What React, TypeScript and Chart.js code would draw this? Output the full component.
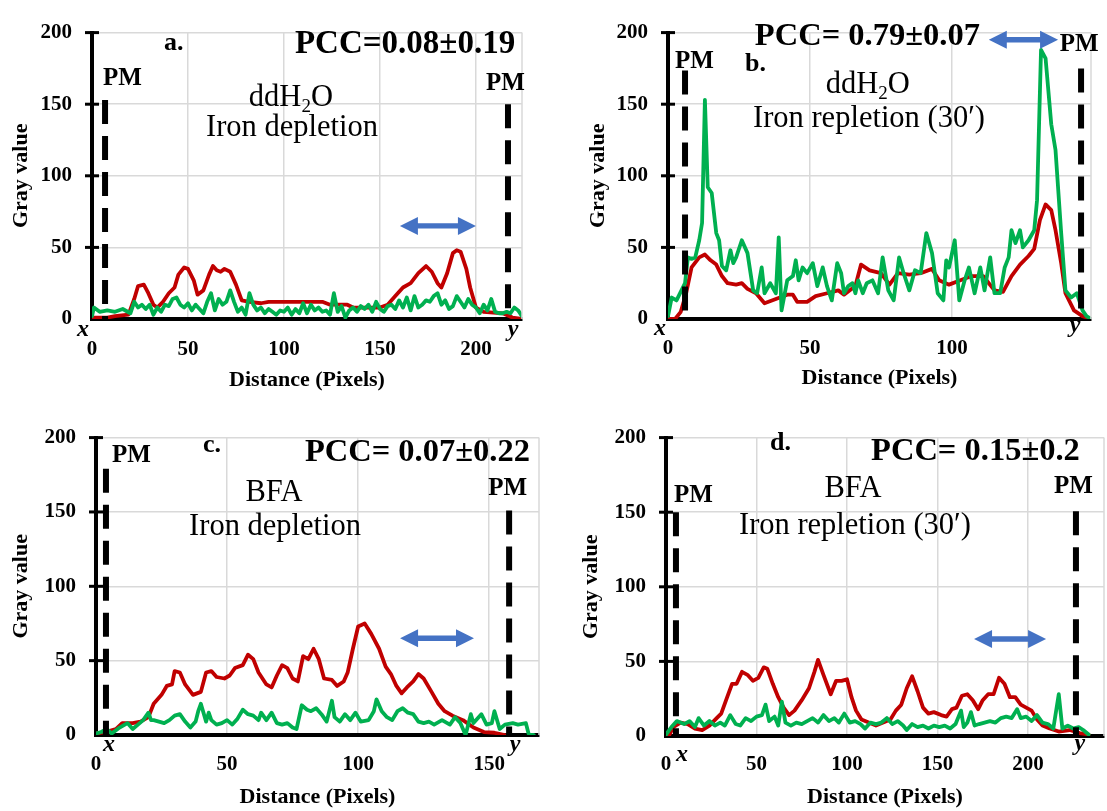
import React, { useEffect, useRef } from 'react';
import { Chart, registerables } from 'chart.js';
Chart.register(...registerables);

const FONT = '"Liberation Serif", "Times New Roman", serif';
Chart.defaults.font.family = FONT;

// ---------- data: [distance, gray value] ----------
const aRed = [[0,1],[8,1],[12,2],[19,3],[22,14],[24,23],[27,24],[29,19],[32,10],[34,8],[37,12],[40,18],[43,22],[45,31],[48,36],[50,35],[53,27],[55,17],[58,20],[61,31],[63,37],[65,34],[67,33],[69,35],[72,33],[75,24],[78,13],[82,12],[88,11],[92,12],[110,12],[120,12],[124,10],[133,10],[136,8],[150,8],[154,10],[158,16],[162,22],[166,25],[170,32],[174,37],[177,33],[180,25],[182,22],[185,32],[188,46],[190,48],[192,47],[195,35],[197,22],[200,8],[204,5],[214,4],[219,1],[224,0]];
const aGreen = [[0,2],[1,8],[4,5],[8,6],[12,5],[16,7],[20,4],[22,12],[24,8],[26,10],[28,7],[30,10],[32,3],[34,8],[36,5],[38,10],[40,9],[42,14],[44,15],[46,10],[48,8],[50,11],[52,6],[54,10],[56,7],[58,4],[60,12],[62,18],[64,6],[66,14],[68,10],[70,12],[72,20],[74,12],[76,5],[78,8],[80,3],[82,18],[84,10],[86,6],[88,8],[90,4],[92,7],[94,5],[96,3],[98,6],[100,5],[102,8],[104,3],[106,7],[108,4],[110,11],[112,4],[114,10],[116,6],[118,8],[120,5],[122,6],[124,3],[126,18],[128,5],[130,9],[132,1],[134,6],[136,8],[138,5],[140,9],[142,7],[144,10],[146,5],[148,12],[150,7],[152,5],[154,9],[156,10],[158,7],[160,13],[162,8],[164,15],[166,6],[168,16],[170,8],[172,10],[174,13],[176,12],[178,16],[180,18],[182,10],[184,13],[186,7],[188,9],[190,16],[192,12],[194,8],[196,14],[198,10],[200,8],[202,4],[204,10],[206,6],[208,14],[210,5],[212,4],[214,4],[216,5],[218,4],[220,8],[222,6],[224,2]];

const bRed = [[0,0],[2.5,0],[4.5,5],[6.4,18],[8.3,36],[11,43],[13,45],[15,41],[17,38],[19,30],[21,25],[24,24],[26,25],[28,21],[31,18],[34,11],[38,14],[42,17],[44,17],[45.5,12],[49,12],[52,16],[56,18],[60,20],[62,17],[66,23],[68,38],[71,34],[75,32],[78,24],[81,32],[85,31],[89,32],[93,35],[95.5,27],[99,24],[103,27],[107,30],[111,30],[115,20],[118,19],[121,30],[124,38],[127,44],[129,49],[131,69],[133,80],[135,76],[136.5,62],[138.5,39],[140,18],[143,6],[146,2],[149,0]];
const bGreen = [[0,2],[1.3,15],[3,13],[6,25],[7,43],[8.3,42],[9.6,43],[11,55],[12,67],[13,153],[14,92],[15.4,88],[17,60],[18,55],[19,37],[20.5,34],[22,48],[23,39],[24,43],[26,55],[28,46],[30,20],[31.4,18],[33,36],[34,18],[36,25],[38,18],[39,57],[40,6],[42,27],[44,30],[45,41],[46,27],[47.4,36],[49,32],[51,39],[52.6,23],[54.5,36],[56,23],[57.7,13],[59.6,39],[61,32],[62,18],[63.5,23],[65,25],[66,18],[67,27],[68.6,18],[70,25],[72,27],[74,18],[75.6,43],[77.6,20],[79.5,13],[81.4,43],[83,32],[85,20],[87,34],[89,32],[91,60],[93,46],[95,18],[97,13],[98,41],[99,36],[101,55],[102.6,13],[104.5,27],[106,36],[108,18],[110,36],[111.5,20],[113.5,43],[115,18],[117,18],[118.6,36],[120,43],[121,62],[122.4,53],[124,62],[125,50],[127,55],[129,62],[130,83],[131.4,188],[133,182],[135,136],[136.5,118],[138.5,60],[140,20],[142,15],[144,18],[146,6],[147.4,2],[149,0]];

const cRed = [[0,1],[3.6,2],[7.6,4],[10,8],[14,8],[17,9],[20,12],[22,21],[25,27],[27,33],[29,34],[30,43],[32,42],[34,34],[37,27],[40,29],[42,42],[44,43],[46,39],[49,38],[51,40],[53,45],[56,47],[58,54],[60,51],[62,42],[65,34],[67,32],[69,40],[71,47],[73,45],[75,38],[77,36],[79,53],[81,51],[83,58],[85,51],[87,38],[90,37],[92,33],[94.5,36],[96,42],[98,58],[100,73],[102.5,75],[105,68],[108,58],[110.5,46],[112.5,41],[114.6,33],[116.6,28],[118.6,32],[121,36],[123,41],[125,38],[128,29],[130.6,21],[133,16],[136,13],[140,10],[144,5],[148,2],[152,1.5],[156,0]];
const cGreen = [[0,1],[2,2],[4,4],[6,1],[9,5],[12,8],[14,4],[16,7],[18,10],[20,15],[21,10],[22,10],[24,9],[26,8],[28,10],[30,13],[32,14],[34,9],[36,5],[38,9],[39,16],[40,21],[42,9],[43,15],[44,10],[46,7],[48,8],[50,10],[52,7],[54,11],[56,17],[58,14],[60,13],[62,10],[63,15],[65,10],[67,15],[69,8],[71,7],[73,8],[75,5],[76.5,4],[78.5,20],[80.5,17],[82,16],[84,18],[86,14],[88,9],[90,23],[91,12],[93,9],[95,14],[97,10],[99,15],[101,9],[104,10],[106,16],[107,24],[109,16],[111,12],[113,10],[115,16],[117,18],[119,15],[121,14],[123,9],[125,8],[127,9],[129,7],[132,10],[135,7],[137,12],[139,8],[141,0],[143,14],[144,8],[147,14],[149,7],[151,8],[152,16],[154,4],[156,7],[159,8],[161,7],[164,8],[165,1],[167,0]];

const dRed = [[0,0],[2,1],[4,6],[8,9],[12,8],[16,5],[20,4],[24,7],[28,12],[30.5,15],[33.5,25],[36.5,35],[39,35],[42,43],[45,41],[48,37],[51,39],[54,46],[56,45],[59,35],[62,26],[65,19],[68,14],[71,17],[75,24],[79,32],[82,43],[84,51],[87,41],[91,28],[94,37],[97,37],[100,38],[102.5,26],[105,17],[108,11],[112,9],[116,7],[120,9],[124,11],[127,17],[130,21],[133,32],[136,40],[139,30],[142,19],[145,15],[148,16],[152,14],[155,13],[158,18],[160.5,19],[163.5,27],[166.5,28],[169.5,24],[172.5,18],[175,24],[178,28],[181,28],[184,39],[187,35],[190,26],[193,26],[196,21],[199,19],[202,17],[205,11],[208,7],[212,5],[217,3],[223,4],[228.5,2],[233.5,1]];
const dGreen = [[0,1],[3,6],[6,10],[10,8],[13,10],[16,6],[18,12],[21,7],[24,10],[27,7],[30,9],[32.5,7],[35.5,14],[38.5,8],[41,7],[44,12],[47,10],[50,13],[53,14],[55,21],[57,10],[60,13],[62,7],[64,23],[66,9],[69,7],[72,9],[75,8],[78,10],[81,12],[84,9],[87,14],[90,10],[93,12],[95.5,9],[98.5,15],[101.5,9],[104.5,10],[107.5,8],[110,5],[113,9],[116,8],[119,9],[122,12],[125,8],[128,10],[131,7],[133,4],[136,8],[139,6],[142,7],[145,5],[148,7],[151,6],[154,7],[157,5],[160,8],[163,17],[164.5,6],[166.5,9],[168.5,16],[170.5,7],[173,8],[176,9],[179,10],[182,9],[185,12],[188,13],[191,12],[194,18],[196,12],[199,13],[202,10],[205,14],[208,9],[211,8],[214,5],[217,28],[219,5],[222,7],[225,5],[228,6],[230.5,4],[233.5,1]];

// ---------- tick labels ----------
const yTicks = [0, 50, 100, 150, 200];
const xTicksA = [0, 50, 100, 150, 200];
const xTicksB = [0, 50, 100];
const xTicksC = [0, 50, 100, 150];
const xTicksD = [0, 50, 100, 150, 200];

// ---------- layout / annotation specs ----------
const B = (s: number) => `bold ${s}px ${FONT}`;
const R = (s: number) => `${s}px ${FONT}`;
const IT = (s: number) => `italic bold ${s}px ${FONT}`;

type TextItem = { text: string; x: number; y: number; font: string; align: CanvasTextAlign };
type PanelSpec = {
  canvas: { left: number; top: number; width: number; height: number };
  area: { left: number; top: number; right: number; bottom: number };
  xMax: number;
  xTicks: number[];
  red: number[][];
  green: number[][];
  texts: TextItem[];
  chem?: { x: number; y: number };
  pm: { x: number; top: number }[];
  arrow: { x1: number; x2: number; y: number };
  yTitleX: number;
  xTitleY: number;
  xTickPad: number;
};

const panels: PanelSpec[] = [
  {
    canvas: { left: 0, top: 0, width: 545, height: 405 },
    area: { left: 92, top: 24, right: 522, bottom: 319 },
    xMax: 224, xTicks: xTicksA, red: aRed, green: aGreen,
    texts: [
      { text: 'a.', x: 37.5, y: 187.8, font: B(26), align: 'left' },
      { text: 'PCC=0.08\u00B10.19', x: 105.7, y: 185.8, font: B(33), align: 'left' },
      { text: 'PM', x: 5.7, y: 163.4, font: B(25), align: 'left' },
      { text: 'PM', x: 205.2, y: 160, font: B(25), align: 'left' },
      { text: 'Iron depletion', x: 104.2, y: 128, font: R(30.5), align: 'center' },
      { text: 'x', x: -4.7, y: -12.2, font: IT(24), align: 'center' },
      { text: 'y', x: 219.3, y: -12.2, font: IT(24), align: 'center' },
    ],
    chem: { x: 103.6, y: 148.5 },
    pm: [{ x: 6.8, top: 153 }, { x: 216.7, top: 150 }],
    arrow: { x1: 160.4, x2: 200, y: 65 },
    yTitleX: 21, xTitleY: 380, xTickPad: 18,
  },
  {
    canvas: { left: 553, top: 0, width: 554, height: 405 },
    area: { left: 668, top: 32, right: 1091, bottom: 319 },
    xMax: 149, xTicks: xTicksB, red: bRed, green: bGreen,
    texts: [
      { text: 'b.', x: 27.1, y: 173.5, font: B(26), align: 'left' },
      { text: 'PCC= 0.79\u00B10.07', x: 30.6, y: 191, font: B(32.5), align: 'left' },
      { text: 'PM', x: 2.5, y: 175.6, font: B(25), align: 'left' },
      { text: 'PM', x: 138, y: 187.5, font: B(25), align: 'left' },
      { text: 'Iron repletion (30\u2032)', x: 70.8, y: 133.8, font: R(30.5), align: 'center' },
      { text: 'x', x: -2.8, y: -11.1, font: IT(24), align: 'center' },
      { text: 'y', x: 143.4, y: -9.1, font: IT(24), align: 'center' },
    ],
    chem: { x: 70.4, y: 157.5 },
    pm: [{ x: 6, top: 173.5 }, { x: 145.5, top: 175 }],
    arrow: { x1: 113, x2: 137.4, y: 195 },
    yTitleX: 598, xTitleY: 378, xTickPad: 17,
  },
  {
    canvas: { left: 0, top: 405, width: 550, height: 406 },
    area: { left: 96, top: 428, right: 539, bottom: 735 },
    xMax: 169, xTicks: xTicksC, red: cRed, green: cGreen,
    texts: [
      { text: 'c.', x: 40.8, y: 190.2, font: B(26), align: 'left' },
      { text: 'PCC= 0.07\u00B10.22', x: 79.7, y: 184.4, font: B(32.5), align: 'left' },
      { text: 'PM', x: 6.1, y: 183.7, font: B(25), align: 'left' },
      { text: 'PM', x: 149.6, y: 161.6, font: B(25), align: 'left' },
      { text: 'BFA', x: 67.9, y: 157.7, font: R(30.5), align: 'center' },
      { text: 'Iron depletion', x: 68.3, y: 134.2, font: R(30.5), align: 'center' },
      { text: 'x', x: 5, y: -11, font: IT(24), align: 'center' },
      { text: 'y', x: 159.9, y: -11, font: IT(24), align: 'center' },
    ],
    pm: [{ x: 3.8, top: 179 }, { x: 157.6, top: 151 }],
    arrow: { x1: 116, x2: 144.2, y: 65.1 },
    yTitleX: 21, xTitleY: 797, xTickPad: 17,
  },
  {
    canvas: { left: 553, top: 405, width: 554, height: 406 },
    area: { left: 666, top: 432, right: 1104, bottom: 736 },
    xMax: 242, xTicks: xTicksD, red: dRed, green: dGreen,
    texts: [
      { text: 'd.', x: 57.5, y: 191.4, font: B(26), align: 'left' },
      { text: 'PCC= 0.15\u00B10.2', x: 113.3, y: 184.9, font: B(32.5), align: 'left' },
      { text: 'PM', x: 4.4, y: 156.6, font: B(25), align: 'left' },
      { text: 'PM', x: 214.4, y: 163.2, font: B(25), align: 'left' },
      { text: 'BFA', x: 103.3, y: 160.5, font: R(30.5), align: 'center' },
      { text: 'Iron repletion (30\u2032)', x: 104.4, y: 135.5, font: R(30.5), align: 'center' },
      { text: 'x', x: 8.8, y: -17, font: IT(24), align: 'center' },
      { text: 'y', x: 228.7, y: -9.2, font: IT(24), align: 'center' },
    ],
    pm: [{ x: 5.5, top: 150 }, { x: 226.5, top: 150.7 }],
    arrow: { x1: 170.2, x2: 210, y: 65 },
    yTitleX: 591, xTitleY: 797, xTickPad: 16,
  },
];

function drawAnnotations(chart: any, spec: PanelSpec) {
  const { ctx, chartArea: ca } = chart;
  const xs = chart.scales.x;
  const ys = chart.scales.y;
  const px = (v: number) => xs.getPixelForValue(v);
  const py = (v: number) => ys.getPixelForValue(v);
  ctx.save();
  // right frame line
  ctx.strokeStyle = '#d9d9d9';
  ctx.lineWidth = 1.5;
  ctx.beginPath();
  ctx.moveTo(ca.right, ca.top);
  ctx.lineTo(ca.right, ca.bottom);
  ctx.stroke();
  // y-axis tick crosses
  ctx.strokeStyle = '#000';
  ctx.lineWidth = 3;
  for (const v of yTicks.slice(1)) {
    const yy = py(v);
    ctx.beginPath();
    ctx.moveTo(ca.left - 7, yy);
    ctx.lineTo(ca.left + 7, yy);
    ctx.stroke();
  }
  // PM dashed lines
  ctx.setLineDash([24, 12]);
  ctx.lineWidth = 6;
  for (const p of spec.pm) {
    const xx = px(p.x);
    ctx.beginPath();
    ctx.moveTo(xx, py(p.top));
    ctx.lineTo(xx, ca.bottom);
    ctx.stroke();
  }
  ctx.setLineDash([]);
  // double arrow
  const a = spec.arrow;
  const x1 = px(a.x1), x2 = px(a.x2), ay = py(a.y);
  const hl = 18, hh = 9, sh = 2.7;
  ctx.fillStyle = '#4472C4';
  ctx.beginPath();
  ctx.moveTo(x1, ay);
  ctx.lineTo(x1 + hl, ay - hh);
  ctx.lineTo(x1 + hl, ay - sh);
  ctx.lineTo(x2 - hl, ay - sh);
  ctx.lineTo(x2 - hl, ay - hh);
  ctx.lineTo(x2, ay);
  ctx.lineTo(x2 - hl, ay + hh);
  ctx.lineTo(x2 - hl, ay + sh);
  ctx.lineTo(x1 + hl, ay + sh);
  ctx.lineTo(x1 + hl, ay + hh);
  ctx.closePath();
  ctx.fill();
  // texts
  ctx.fillStyle = '#000';
  ctx.textBaseline = 'alphabetic';
  for (const t of spec.texts) {
    ctx.font = t.font;
    ctx.textAlign = t.align;
    ctx.fillText(t.text, px(t.x), py(t.y));
  }
  // ddH2O with subscript
  if (spec.chem) {
    const big = R(30.5), small = R(19);
    ctx.textAlign = 'left';
    ctx.font = big;
    const w1 = ctx.measureText('ddH').width;
    const w3 = ctx.measureText('O').width;
    ctx.font = small;
    const w2 = ctx.measureText('2').width;
    const cx = px(spec.chem.x), cy = py(spec.chem.y);
    let sx = cx - (w1 + w2 + w3) / 2;
    ctx.font = big;
    ctx.fillText('ddH', sx, cy);
    sx += w1;
    ctx.font = small;
    ctx.fillText('2', sx, cy + 6);
    sx += w2;
    ctx.font = big;
    ctx.fillText('O', sx, cy);
  }
  ctx.restore();
}

function Panel({ spec }: { spec: PanelSpec }) {
  const ref = useRef<HTMLCanvasElement>(null);
  const c = spec.canvas;
  useEffect(() => {
    const a = spec.area;
    const padTop = a.top - c.top;
    const padRight = c.left + c.width - a.right;
    const yW = a.left - c.left;
    const xH = c.top + c.height - a.bottom;
    const titleFont = { family: FONT, size: 22, weight: 'bold' as const, lineHeight: 1.2 };
    const half = (22 * 1.2) / 2;
    const tickFont = { family: FONT, size: 21, weight: 'bold' as const };
    const plugin = { id: 'ann', afterDatasetsDraw: (ch: any) => drawAnnotations(ch, spec) };
    const chart = new Chart(ref.current as HTMLCanvasElement, {
      type: 'line',
      data: {
        datasets: [
          {
            data: spec.green.map(([x, y]) => ({ x, y })),
            borderColor: '#00B050', borderWidth: 3.8, pointRadius: 0, tension: 0,
            fill: false, borderJoinStyle: 'round', borderCapStyle: 'round',
          },
          {
            data: spec.red.map(([x, y]) => ({ x, y })),
            borderColor: '#C00000', borderWidth: 3.8, pointRadius: 0, tension: 0,
            fill: false, borderJoinStyle: 'round', borderCapStyle: 'round',
          },
        ],
      },
      options: {
        responsive: false,
        animation: false,
        devicePixelRatio: 1,
        layout: { padding: { top: padTop, right: padRight, bottom: 0, left: 0 } },
        plugins: { legend: { display: false }, tooltip: { enabled: false } },
        scales: {
          x: {
            type: 'linear', min: 0, max: spec.xMax,
            afterBuildTicks: (s: any) => { s.ticks = spec.xTicks.map((v) => ({ value: v })); },
            ticks: { autoSkip: false, maxRotation: 0, font: tickFont, color: '#000', padding: spec.xTickPad },
            grid: { color: '#d9d9d9', lineWidth: 1.5, drawTicks: false },
            border: { display: true, color: '#000', width: 4 },
            title: { display: true, text: 'Distance (Pixels)', font: titleFont, color: '#000', padding: { top: 0, bottom: c.top + c.height - spec.xTitleY - half } },
            afterFit: (s: any) => { s.height = xH; },
          },
          y: {
            type: 'linear', min: 0, max: 200,
            afterBuildTicks: (s: any) => { s.ticks = yTicks.map((v) => ({ value: v })); },
            ticks: { font: tickFont, color: '#000', padding: 20 },
            grid: { color: '#d9d9d9', lineWidth: 1.5, drawTicks: false },
            border: { display: true, color: '#000', width: 4 },
            title: { display: true, text: 'Gray value', font: titleFont, color: '#000', padding: { top: spec.yTitleX - c.left - half, bottom: 0 } },
            afterFit: (s: any) => { s.width = yW; },
          },
        },
      } as any,
      plugins: [plugin],
    });
    return () => chart.destroy();
  }, []);
  return (
    <canvas
      ref={ref}
      width={c.width}
      height={c.height}
      style={{ position: 'absolute', left: c.left, top: c.top, width: c.width, height: c.height }}
    />
  );
}

export default function App() {
  return (
    <div style={{ position: 'absolute', left: 0, top: 0, width: 1107, height: 811, background: '#fff', overflow: 'hidden' }}>
      {panels.map((p, i) => (
        <Panel key={i} spec={p} />
      ))}
    </div>
  );
}
